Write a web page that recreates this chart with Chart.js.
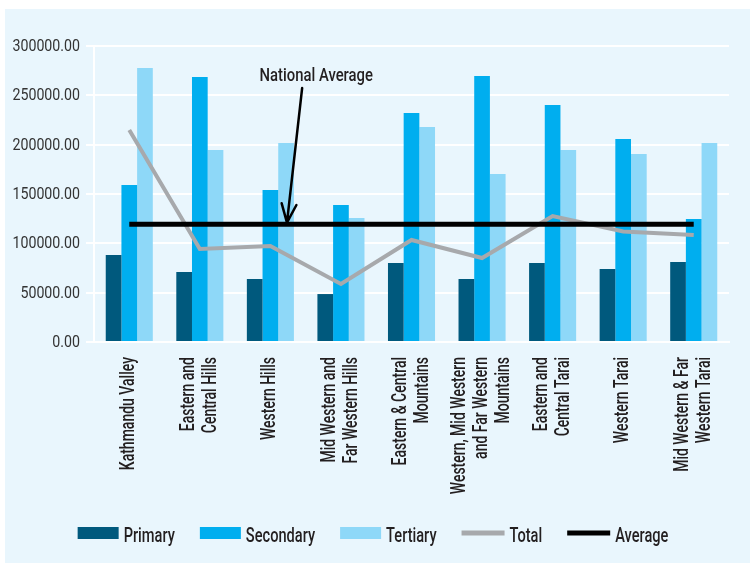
<!DOCTYPE html>
<html>
<head>
<meta charset="utf-8">
<script src="https://cdn.jsdelivr.net/npm/chart.js@4.4.1/dist/chart.umd.min.js"></script>
<style>
  html, body { margin: 0; padding: 0; background: #ffffff; }
  canvas { display: block; }
</style>
</head>
<body>
<canvas id="c" width="750" height="563"></canvas>
<script>
// ---- data ----
const categories = [
  ['Kathmandu Valley'],
  ['Eastern and', 'Central Hills'],
  ['Western Hills'],
  ['Mid Western and', 'Far Western Hills'],
  ['Eastern & Central', 'Mountains'],
  ['Western, Mid Western', 'and Far Western', 'Mountains'],
  ['Eastern and', 'Central Tarai'],
  ['Western Tarai'],
  ['Mid Western & Far', 'Western Tarai']
];
const primary   = [88200, 71000, 63900, 48600, 80000, 63900, 80000, 74000, 81100];
const secondary = [159000, 268600, 154000, 138900, 232100, 269600, 240200, 205700, 124700];
const tertiary  = [277700, 194600, 201700, 125700, 217900, 170300, 194600, 190500, 201700];
const total     = [214900, 94300, 97300, 58800, 103400, 85100, 127700, 112000, 108400];
const average   = [119300, 119300, 119300, 119300, 119300, 119300, 119300, 119300, 119300];
const yTickValues = [0, 50000, 100000, 150000, 200000, 250000, 300000];
const annotationText = 'National Average';
const seriesNames = ['Primary', 'Secondary', 'Tertiary', 'Total', 'Average'];

// ---- style ----
const COLORS = {
  primary: '#00597D', secondary: '#00AEEF', tertiary: '#8ED8F8',
  total: '#A7A9AC', average: '#000000', text: '#231F20', panel: '#E9F6FD'
};
const FONT = 'Roboto, "Liberation Sans", sans-serif';

function drawText(ctx, s, x, y, size, sx, align, baseline, color, rotate, weight) {
  ctx.save();
  ctx.translate(x, y);
  if (rotate) ctx.rotate(-Math.PI / 2);
  ctx.scale(sx, 1);
  ctx.font = (weight || 'normal') + ' ' + size + 'px ' + FONT;
  ctx.textAlign = align;
  ctx.textBaseline = baseline;
  ctx.fillStyle = color;
  ctx.fillText(s, 0, 0);
  ctx.restore();
}

const decorPlugin = {
  id: 'decor',
  beforeDraw(chart) {
    const ctx = chart.ctx;
    ctx.save();
    ctx.fillStyle = '#ffffff';
    ctx.fillRect(0, 0, chart.width, chart.height);
    ctx.fillStyle = COLORS.panel;
    ctx.fillRect(5, 9, chart.width - 5, chart.height - 9);
    ctx.restore();
  },
  afterDraw(chart) {
    const ctx = chart.ctx;
    const xs = chart.scales.x, ys = chart.scales.y;
    const area = chart.chartArea;

    // y tick labels
    yTickValues.forEach(v => {
      drawText(ctx, v.toFixed(2), area.left - 14, ys.getPixelForValue(v) + 1,
               16.5, 0.86, 'right', 'middle', '#333333', false, 'normal');
    });

    // x category labels (rotated, multi-line)
    const lineGap = 22;
    categories.forEach((lines, i) => {
      const cx = xs.getPixelForValue(i);
      const n = lines.length;
      lines.forEach((ln, k) => {
        const x = cx + (k - (n - 1) / 2) * lineGap;
        drawText(ctx, ln, x, area.bottom + 15, 20, 0.7, 'right', 'middle', COLORS.text, true, '500');
      });
    });

    // annotation "National Average" with arrow
    const tx = xs.getPixelForValue(2.65), ty = ys.getPixelForValue(265000);
    drawText(ctx, annotationText, tx, ty, 19, 0.78, 'center', 'alphabetic', COLORS.text, false, '500');
    const ax0 = xs.getPixelForValue(2.45), ay0 = ys.getPixelForValue(257400);
    const ax1 = xs.getPixelForValue(2.235), ay1 = ys.getPixelForValue(121000);
    ctx.save();
    ctx.strokeStyle = '#000';
    ctx.lineWidth = 2.5;
    ctx.lineCap = 'round';
    ctx.beginPath();
    ctx.moveTo(ax0, ay0);
    ctx.lineTo(ax1, ay1);
    const ang = Math.atan2(ay0 - ay1, ax0 - ax1);
    const hl = 20, spread = 0.38;
    ctx.moveTo(ax1 + hl * Math.cos(ang - spread), ay1 + hl * Math.sin(ang - spread));
    ctx.lineTo(ax1, ay1);
    ctx.lineTo(ax1 + hl * Math.cos(ang + spread), ay1 + hl * Math.sin(ang + spread));
    ctx.stroke();
    ctx.restore();

    // legend
    const items = [
      { name: seriesNames[0], kind: 'box', color: COLORS.primary },
      { name: seriesNames[1], kind: 'box', color: COLORS.secondary },
      { name: seriesNames[2], kind: 'box', color: COLORS.tertiary },
      { name: seriesNames[3], kind: 'line', color: COLORS.total },
      { name: seriesNames[4], kind: 'line', color: COLORS.average }
    ];
    const lsize = 20, lsx = 0.73, gapSym = 5, gapItem = 25;
    ctx.save();
    ctx.font = '500 ' + lsize + 'px ' + FONT;
    items.forEach(it => {
      it.symW = it.kind === 'box' ? 41 : 43;
      it.tw = ctx.measureText(it.name).width * lsx;
      it.w = it.symW + gapSym + it.tw;
    });
    ctx.restore();
    const totalW = items.reduce((a, it) => a + it.w, 0) + gapItem * (items.length - 1);
    let lx = 373 - totalW / 2;
    const ly = 533;
    items.forEach(it => {
      ctx.save();
      ctx.fillStyle = it.color;
      if (it.kind === 'box') ctx.fillRect(lx, ly - 6, it.symW, 12);
      else ctx.fillRect(lx, ly - 2.5, it.symW, 5);
      ctx.restore();
      drawText(ctx, it.name, lx + it.symW + gapSym, ly + 8.5, lsize, lsx, 'left', 'alphabetic', COLORS.text, false, '500');
      lx += it.w + gapItem;
    });
  }
};

new Chart(document.getElementById('c'), {
  type: 'bar',
  data: {
    labels: categories,
    datasets: [
      { type: 'line', label: seriesNames[4], data: average, borderColor: COLORS.average,
        borderWidth: 5, pointRadius: 0, borderCapStyle: 'butt', order: 0, tension: 0 },
      { type: 'line', label: seriesNames[3], data: total, borderColor: COLORS.total,
        borderWidth: 4, pointRadius: 0, borderCapStyle: 'butt', order: 1, tension: 0 },
      { label: seriesNames[0], data: primary, backgroundColor: COLORS.primary, order: 2 },
      { label: seriesNames[1], data: secondary, backgroundColor: COLORS.secondary, order: 2 },
      { label: seriesNames[2], data: tertiary, backgroundColor: COLORS.tertiary, order: 2 }
    ]
  },
  options: {
    responsive: false,
    animation: false,
    devicePixelRatio: 1,
    layout: { padding: { left: 0, right: 21, top: 46, bottom: 221 } },
    datasets: { bar: { categoryPercentage: 0.667, barPercentage: 1.0, borderWidth: 0 } },
    plugins: { legend: { display: false }, tooltip: { enabled: false } },
    scales: {
      x: {
        grid: { display: false },
        border: { color: '#ffffff', width: 2 },
        ticks: { display: false },
        afterFit(s) { s.height = 0; }
      },
      y: {
        min: 0, max: 300000,
        ticks: { stepSize: 50000, display: false },
        grid: { color: '#ffffff', lineWidth: 2, tickLength: 8, drawTicks: true },
        border: { color: '#ffffff', width: 2 },
        afterFit(s) { s.width = 94; }
      }
    }
  },
  plugins: [decorPlugin]
});
</script>
</body>
</html>
